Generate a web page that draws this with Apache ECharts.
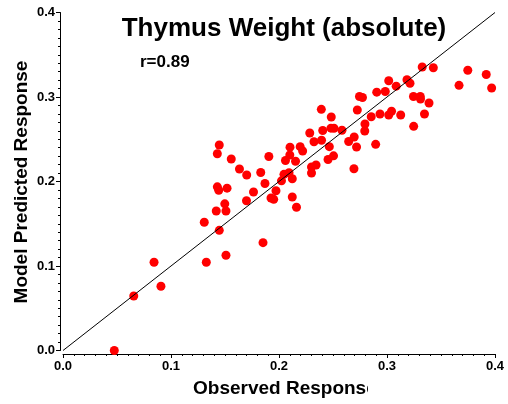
<!DOCTYPE html>
<html>
<head>
<meta charset="utf-8">
<script src="https://cdn.jsdelivr.net/npm/echarts@6/dist/echarts.min.js"></script>
<style>html,body{margin:0;padding:0;background:#fff}#c{width:508px;height:404px}</style>
</head>
<body>
<div id="c"></div>
<script>
var observed = [0.0475,0.0655,0.0843,0.0907,0.1308,0.1327,0.1419,0.1447,0.1498,0.1509,0.1509,0.1699,0.1852,0.2162,
0.1447,0.1429,0.1558,0.1634,0.1429,0.1442,0.1519,0.1701,0.1831,0.1906,0.1870,0.1764,0.1926,0.1951,0.2123,0.1972,
0.2023,0.2046,0.2093,0.2123,0.2102,0.2196,0.2219,0.2100,0.2060,0.2153,0.2343,0.2301,0.2301,0.2454,0.2505,0.2694,
0.2324,0.2394,0.2466,0.2645,0.2696,0.2718,0.2895,0.2285,0.2405,0.2481,0.2509,0.2583,0.2392,0.2484,0.2725,0.2796,
0.2794,0.2854,0.2935,0.3016,0.3042,0.3127,0.3347,0.3247,0.2745,0.2773,0.2905,0.2984,0.3085,0.3016,0.3185,0.3213,
0.3245,0.3308,0.3310,0.3389,0.3326,0.3429,0.3667,0.3748,0.3919,0.3969];
var predicted = [0.000,0.0645,0.1044,0.0760,0.1518,0.1044,0.1651,0.1422,0.1736,0.1651,0.1127,0.1772,0.1276,0.1695,
0.2432,0.2328,0.2266,0.2148,0.1937,0.1897,0.1921,0.2077,0.2107,0.2296,0.1976,0.1876,0.1805,0.1789,0.1817,0.1891,
0.2008,0.2085,0.2104,0.2032,0.2406,0.2412,0.2361,0.2314,0.2249,0.2240,0.2195,0.2172,0.2101,0.2260,0.2304,0.2151,
0.2471,0.2488,0.2412,0.2473,0.2527,0.2408,0.2440,0.2574,0.2604,0.2631,0.2630,0.2607,0.2854,0.2763,0.2846,0.2680,
0.2598,0.2766,0.2799,0.2787,0.2832,0.2787,0.2799,0.2653,0.3006,0.2994,0.3057,0.3065,0.3128,0.3192,0.3204,0.3163,
0.3006,0.3006,0.2976,0.2929,0.3355,0.3346,0.3138,0.3317,0.3266,0.3107];
var identityX = [0, 0.4];
var identityY = [0, 0.4];
var axisTicks = [0, 0.1, 0.2, 0.3, 0.4];
var titleText = 'Thymus Weight (absolute)';
var rText = 'r=0.89';
var xName = 'Observed Response';
var yName = 'Model Predicted Response';

var FONT = '"Liberation Sans", Arial, sans-serif';
var pts = observed.map(function(v, i){ return [v, predicted[i]]; });
var linePts = identityX.map(function(v, i){ return [v, identityY[i]]; });

var chart = echarts.init(document.getElementById('c'), null, {renderer: 'canvas'});
function axisCommon(offset){
  return {
    type: 'value', min: axisTicks[0], max: axisTicks[axisTicks.length-1], interval: 0.1,
    offset: offset,
    axisLine: {show: true, onZero: false, lineStyle: {color: '#000', width: 1}},
    axisTick: {show: true, length: 4, lineStyle: {color: '#000'}},
    minorTick: {show: true, splitNumber: 10, length: 2, lineStyle: {color: '#000'}},
    splitLine: {show: false},
    minorSplitLine: {show: false},
    axisLabel: {color: '#000', fontWeight: 'bold', fontSize: 13, fontFamily: FONT,
      formatter: function(v){ return v.toFixed(1); }}
  };
}
var xa = axisCommon(3.5); xa.axisLabel.margin = 6;
var ya = axisCommon(3); ya.axisLabel.margin = 5;
chart.setOption({
  animation: false,
  backgroundColor: '#fff',
  grid: {left: 63, right: 13, top: 12.5, bottom: 53.5, containLabel: false},
  xAxis: xa,
  yAxis: ya,
  series: [
    {type: 'scatter', data: pts, symbol: 'circle', symbolSize: 9,
     itemStyle: {color: '#ff0000', opacity: 1}, z: 2},
    {type: 'line', data: linePts, symbol: 'none', lineStyle: {color: '#000', width: 1}, z: 3}
  ],
  graphic: [
    {type: 'text', x: 284, y: 29, z: 10, style: {text: titleText, fill: '#000', font: 'bold 26px ' + FONT, textAlign: 'center', textVerticalAlign: 'middle'}},
    {type: 'text', x: 140, y: 62, z: 10, style: {text: rText, fill: '#000', font: 'bold 17px ' + FONT, textAlign: 'left', textVerticalAlign: 'middle'}},
    {type: 'text', x: 193, y: 389, z: 10, style: {text: xName, fill: '#000', font: 'bold 19px ' + FONT, textAlign: 'left', textVerticalAlign: 'middle'}},
    {type: 'rect', z: 11, shape: {x: 368, y: 376, width: 20, height: 26}, style: {fill: '#fff'}},
    {type: 'text', x: 22, y: 182, rotation: Math.PI/2, z: 10, style: {text: yName, fill: '#000', font: 'bold 19px ' + FONT, textAlign: 'center', textVerticalAlign: 'middle'}}
  ]
});
</script>
</body>
</html>
